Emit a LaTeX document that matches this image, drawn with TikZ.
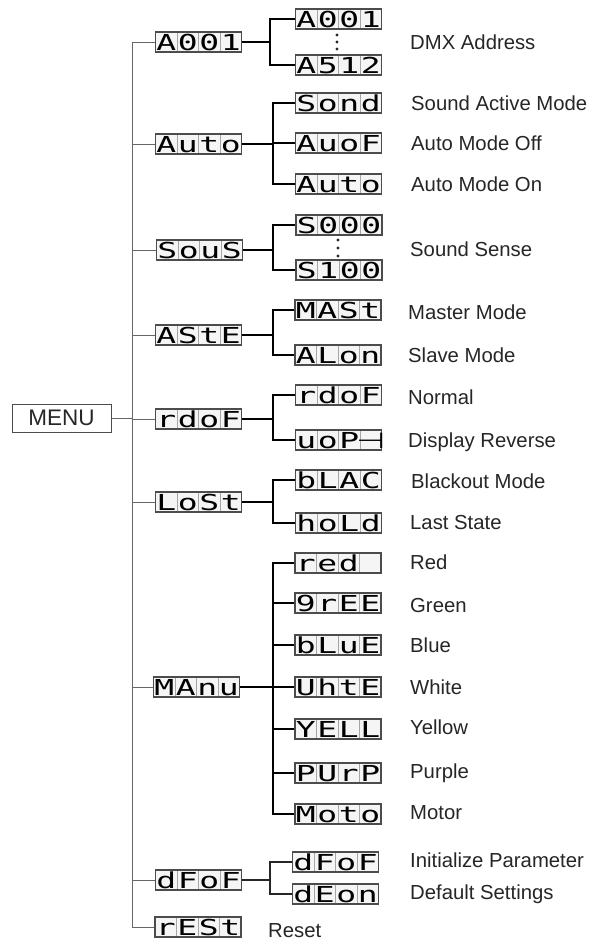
\documentclass[tikz,border=0pt]{standalone}
\usepackage{fontspec}
\setmainfont{Liberation Sans}
\newfontfamily\dfont{DejaVu Sans Mono}
\newfontfamily\dsym{DejaVu Sans}
\usetikzlibrary{calc}
\newcommand\segc[1]{\makebox[21.5pt]{\scalebox{1.5}[1]{#1}}}
\newcommand\segt[4]{{\dfont\fontsize{22}{22}\selectfont\segc{#1}\segc{#2}\segc{#3}\segc{#4}}}
\begin{document}
\begin{tikzpicture}[x=1pt,y=-1pt,
  disp/.style={draw=black!70, line width=1.1pt, fill=black!4, minimum width=86pt, minimum height=20pt, inner sep=0pt, text height=17pt, text depth=1pt,
    path picture={\foreach \f in {0.25,0.5,0.75}{\draw[black!35,line width=0.8pt] ($(path picture bounding box.south west)!\f!(path picture bounding box.south east)$) -- ($(path picture bounding box.north west)!\f!(path picture bounding box.north east)$);}}},
  lab/.style={anchor=base west, inner sep=0pt, font=\fontsize{20.3}{21}\selectfont, text=black!85},
  trunkl/.style={draw=black!60, line width=0.9pt},
  subl/.style={draw=black, line width=1.6pt},
  subthin/.style={draw=black!85, line width=1.1pt},
  dotd/.style={circle, fill=black!85, inner sep=0pt, minimum size=3.2pt}
]
\useasboundingbox (0,0) rectangle (592,940);
\fill[white] (0,0) rectangle (592,940);
\coordinate (tk) at (132,0);
\coordinate (ba) at (270,0);
\coordinate (bb) at (273,0);

% MENU
\node[draw=black!70, line width=1pt, minimum width=99pt, minimum height=28pt, inner sep=0pt, font=\fontsize{22.5}{22}\selectfont, text=black!85] (menu) at (61.5,418) {MENU};

% level 1
\node[disp] (a1) at (198.5,42) {\segt{A}{0}{0}{1}};
\node[disp] (au) at (198.5,144) {\segt{A}{u}{t}{o}};
\node[disp] (so) at (199.5,250) {\segt{S}{o}{u}{S}};
\node[disp] (as) at (198.5,335) {\segt{A}{S}{t}{E}};
\node[disp] (rd) at (198.5,419) {\segt{r}{d}{o}{F}};
\node[disp] (lo) at (198.5,502) {\segt{L}{o}{S}{t}};
\node[disp] (ma) at (196.5,687) {\segt{M}{A}{n}{u}};
\node[disp] (df) at (198.5,880) {\segt{d}{F}{o}{F}};
\node[disp] (rs) at (198,927) {\segt{r}{E}{S}{t}};

% level 2
\node[disp] (a11) at (338.5,19) {\segt{A}{0}{0}{1}};
\node[disp] (a12) at (338.5,65) {\segt{A}{5}{1}{2}};
\node[disp] (au1) at (338.5,103) {\segt{S}{o}{n}{d}};
\node[disp] (au2) at (338.5,143) {\segt{A}{u}{o}{F}};
\node[disp] (au3) at (338.5,184) {\segt{A}{u}{t}{o}};
\node[disp] (so1) at (339,225) {\segt{S}{0}{0}{0}};
\node[disp] (so2) at (339,270) {\segt{S}{1}{0}{0}};
\node[disp] (as1) at (338,310) {\segt{M}{A}{S}{t}};
\node[disp] (as2) at (338,355) {\segt{A}{L}{o}{n}};
\node[disp] (rd1) at (338.5,395) {\segt{r}{d}{o}{F}};
\node[disp] (rd2) at (338.5,440) {\segt{u}{o}{P}{\dsym ⊣}};
\node[disp] (lo1) at (338.5,480) {\segt{b}{L}{A}{C}};
\node[disp] (lo2) at (338.5,523) {\segt{h}{o}{L}{d}};
\node[disp] (ma1) at (338,563) {\segt{r}{e}{d}{}};
\node[disp] (ma2) at (338,603) {\segt{9}{r}{E}{E}};
\node[disp] (ma3) at (338,645) {\segt{b}{L}{u}{E}};
\node[disp] (ma4) at (338,687) {\segt{U}{h}{t}{E}};
\node[disp] (ma5) at (338,729) {\segt{Y}{E}{L}{L}};
\node[disp] (ma6) at (338,773) {\segt{P}{U}{r}{P}};
\node[disp] (ma7) at (338,814) {\segt{M}{o}{t}{o}};
\node[disp] (df1) at (335.5,862) {\segt{d}{F}{o}{F}};
\node[disp] (df2) at (335.5,894) {\segt{d}{E}{o}{n}};

% dots
\node[dotd] (d1) at (337,35) {};
\node[dotd] (d2) at (337,42) {};
\node[dotd] (d3) at (337,49) {};
\node[dotd] (e1) at (338,240) {};
\node[dotd] (e2) at (338,248) {};
\node[dotd] (e3) at (338,256) {};

% trunk
\draw[trunkl] (a1.west) -- (a1.west -| tk) -- (rs.west -| tk) -- (rs.west);
\foreach \n in {au,so,as,rd,lo,ma,df} \draw[trunkl] (\n.west -| tk) -- (\n.west);
\draw[trunkl] (menu.east) -- (menu.east -| tk);

% level 2 connectors
\draw[subl] (a1.east) -- (a1.east -| ba);
\draw[subl] (a11.west) -- (a11.west -| ba) -- (a12.west -| ba) -- (a12.west);
\draw[subl] (au.east) -- (au.east -| bb);
\draw[subl] (au1.west) -- (au1.west -| bb) -- (au3.west -| bb) -- (au3.west);
\draw[subl] (au2.west -| bb) -- (au2.west);
\draw[subl] (so.east) -- (so.east -| bb);
\draw[subl] (so1.west) -- (so1.west -| bb) -- (so2.west -| bb) -- (so2.west);
\draw[subl] (as.east) -- (as.east -| bb);
\draw[subl] (as1.west) -- (as1.west -| bb) -- (as2.west -| bb) -- (as2.west);
\draw[subl] (rd.east) -- (rd.east -| bb);
\draw[subl] (rd1.west) -- (rd1.west -| bb) -- (rd2.west -| bb) -- (rd2.west);
\draw[subl] (lo.east) -- (lo.east -| bb);
\draw[subl] (lo1.west) -- (lo1.west -| bb) -- (lo2.west -| bb) -- (lo2.west);
\draw[subl] (ma.east) -- (ma.east -| bb);
\draw[subl] (ma1.west) -- (ma1.west -| bb) -- (ma7.west -| bb) -- (ma7.west);
\foreach \n in {ma2,ma3,ma4,ma5,ma6} \draw[subl] (\n.west -| bb) -- (\n.west);
\draw[subthin] (df.east) -- (df.east -| ba);
\draw[subthin] (df1.west) -- (df1.west -| ba) -- (df2.west -| ba) -- (df2.west);

% labels
\node[lab] (t1) at (410,49) {DMX Address};
\node[lab] (t2) at (411,110) {Sound Active Mode};
\node[lab] (t3) at (411,150) {Auto Mode Off};
\node[lab] (t4) at (411,191) {Auto Mode On};
\node[lab] (t5) at (410,256) {Sound Sense};
\node[lab] (t6) at (408,319) {Master Mode};
\node[lab] (t7) at (408,362) {Slave Mode};
\node[lab] (t8) at (408,404) {Normal};
\node[lab] (t9) at (408,447) {Display Reverse};
\node[lab] (t10) at (411,488) {Blackout Mode};
\node[lab] (t11) at (410,529) {Last State};
\node[lab] (t12) at (410,569) {Red};
\node[lab] (t13) at (410,612) {Green};
\node[lab] (t14) at (410,652) {Blue};
\node[lab] (t15) at (410,694) {White};
\node[lab] (t16) at (410,734) {Yellow};
\node[lab] (t17) at (410,778) {Purple};
\node[lab] (t18) at (410,819) {Motor};
\node[lab] (t19) at (410,867) {Initialize Parameter};
\node[lab] (t20) at (410,899) {Default Settings};
\node[lab] (t21) at (268,937) {Reset};
\end{tikzpicture}
\end{document}
